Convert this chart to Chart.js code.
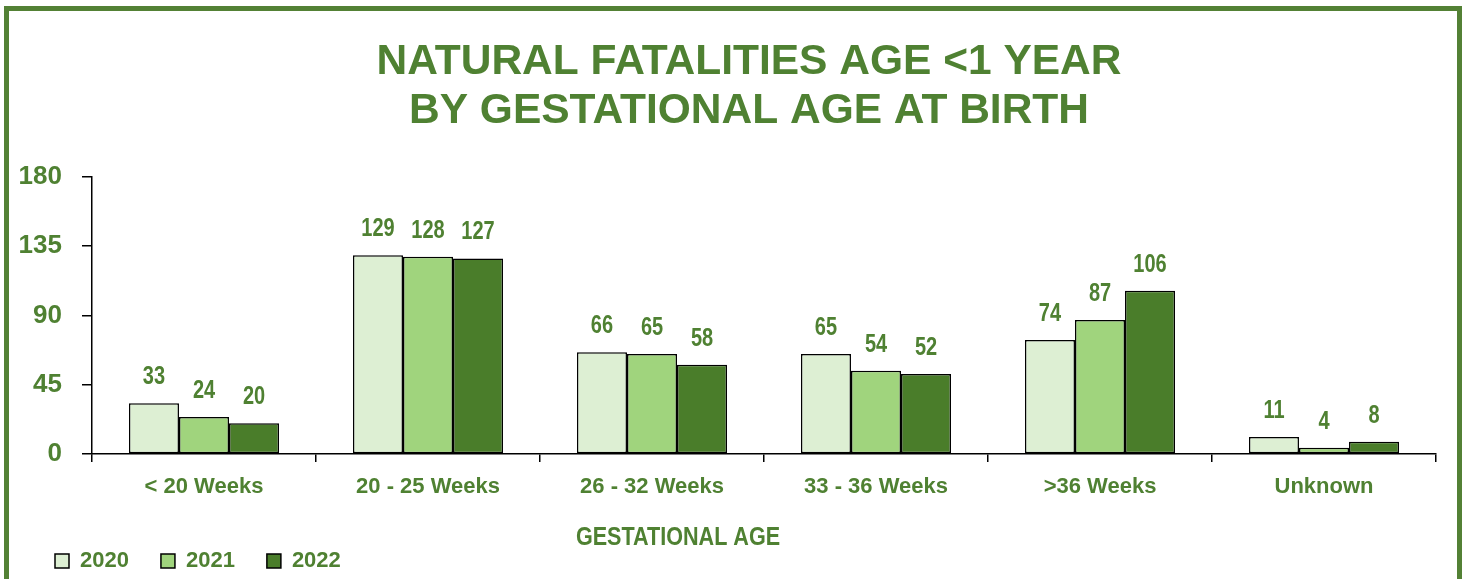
<!DOCTYPE html>
<html>
<head>
<meta charset="utf-8">
<script src="https://cdn.jsdelivr.net/npm/chart.js@4.4.1/dist/chart.umd.min.js"></script>
<style>
  html, body { margin: 0; padding: 0; background: #fff; overflow: hidden; }
  #frame { position: absolute; left: 4px; top: 6px; width: 1448px; height: 600px; border: 5px solid #538135; }
  #wrap { position: absolute; left: 0; top: 0; width: 1465px; height: 582px; }
</style>
</head>
<body>
<div id="frame"></div>
<div id="wrap"><canvas id="barChart"></canvas></div>
<script>
const categories = ["< 20 Weeks", "20 - 25 Weeks", "26 - 32 Weeks", "33 - 36 Weeks", ">36 Weeks", "Unknown"];
const years = ["2020", "2021", "2022"];
const values2020 = [33, 129, 66, 65, 74, 11];
const values2021 = [24, 128, 65, 54, 87, 4];
const values2022 = [20, 127, 58, 52, 106, 8];
const yTicks = [0, 45, 90, 135, 180];

const green = '#4F8132';
const sans = "'Liberation Sans', Arial, sans-serif";

// draw text squeezed horizontally (no narrow font installed)
function narrowText(ctx, text, x, y, squeeze) {
  ctx.save();
  ctx.translate(x, y);
  ctx.scale(squeeze, 1);
  ctx.fillText(text, 0, 0);
  ctx.restore();
}

// value labels above each bar
const barLabels = {
  id: 'barLabels',
  afterDatasetsDraw(chart) {
    const ctx = chart.ctx;
    ctx.save();
    ctx.font = 'bold 25px ' + sans;
    ctx.fillStyle = green;
    ctx.textAlign = 'center';
    ctx.textBaseline = 'middle';
    chart.data.datasets.forEach((ds, i) => {
      chart.getDatasetMeta(i).data.forEach((bar, j) => {
        narrowText(ctx, String(ds.data[j]), bar.x, bar.y - 26, 0.8);
      });
    });
    ctx.restore();
  }
};

// axis title sits left of centre in the original
const axisTitle = {
  id: 'axisTitle',
  afterDraw(chart) {
    const ctx = chart.ctx;
    ctx.save();
    ctx.font = 'bold 26px ' + sans;
    ctx.fillStyle = green;
    ctx.textAlign = 'center';
    ctx.textBaseline = 'middle';
    narrowText(ctx, 'GESTATIONAL AGE', 678, 538, 0.83);
    ctx.restore();
  }
};

// nudge legend and title to line up with the original
const boxShift = {
  id: 'boxShift',
  afterLayout(chart) {
    if (chart.legend) {
      chart.legend.left += 13;
      chart.legend.right += 13;
    }
    if (chart.titleBlock) {
      chart.titleBlock.left += 26;
      chart.titleBlock.right += 26;
    }
  }
};

const showElement = document.getElementById("barChart");
new Chart(showElement, {
  type: 'bar',
  data: {
    labels: categories,
    datasets: [
      { label: years[0], data: values2020, backgroundColor: '#DDEFD3', borderColor: '#000', borderWidth: 1.5, borderSkipped: false },
      { label: years[1], data: values2021, backgroundColor: '#A0D47D', borderColor: '#000', borderWidth: 1.5, borderSkipped: false },
      { label: years[2], data: values2022, backgroundColor: '#4A7D2A', borderColor: '#000', borderWidth: 1.5, borderSkipped: false }
    ]
  },
  options: {
    responsive: true,
    maintainAspectRatio: false,
    animation: false,
    layout: { padding: { left: 10, right: 29, top: 0, bottom: 0 } },
    datasets: { bar: { categoryPercentage: 0.67, barPercentage: 1.0 } },
    plugins: {
      title: {
        display: true,
        text: ['NATURAL FATALITIES AGE <1 YEAR', 'BY GESTATIONAL AGE AT BIRTH'],
        color: green,
        font: { family: sans, size: 42.5, weight: 'bold', lineHeight: 1.15 },
        padding: { top: 38, bottom: 41 }
      },
      legend: {
        position: 'bottom',
        align: 'start',
        labels: {
          color: green,
          font: { family: sans, size: 22, weight: 'bold' },
          boxWidth: 14,
          boxHeight: 14,
          padding: 32
        }
      },
      tooltip: { enabled: false }
    },
    scales: {
      x: {
        grid: { drawOnChartArea: false, tickLength: 8, color: '#000', lineWidth: 1.5 },
        border: { color: '#000', width: 1.5 },
        ticks: { color: green, font: { family: sans, size: 22, weight: 'bold' }, padding: 12, maxRotation: 0 },
        afterFit(scale) { scale.height = 64; }
      },
      y: {
        min: 0,
        max: 180,
        afterBuildTicks(scale) { scale.ticks = yTicks.map(v => ({ value: v })); },
        grid: { drawOnChartArea: false, tickLength: 10, color: '#000', lineWidth: 1.5 },
        border: { color: '#000', width: 1.5 },
        ticks: { color: green, font: { family: sans, size: 26, weight: 'bold' }, padding: 20 },
        afterFit(scale) { scale.width = 82; }
      }
    }
  },
  plugins: [barLabels, axisTitle, boxShift]
});
</script>
</body>
</html>
